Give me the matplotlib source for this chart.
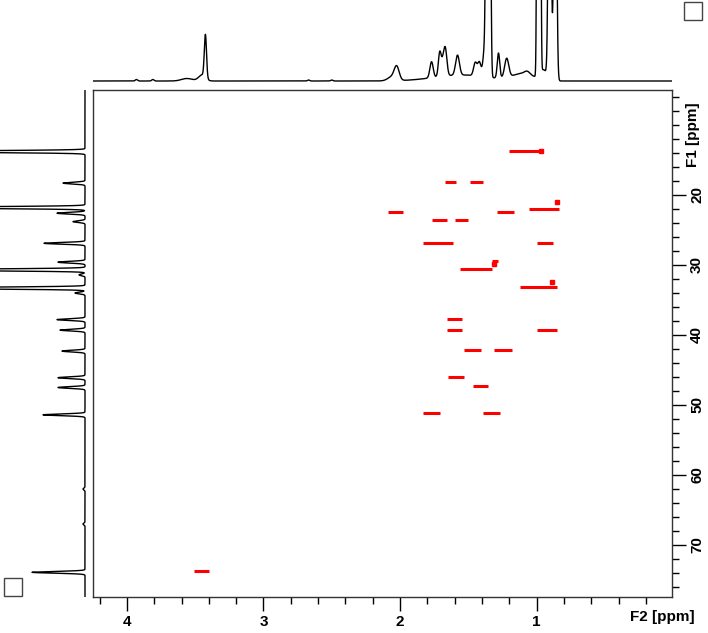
import numpy as np
import matplotlib
matplotlib.use("Agg")
import matplotlib.pyplot as plt
from matplotlib.patches import Rectangle

# ---------------------------
# data
# ---------------------------

# HSQC cross peaks: 1H start, 1H end, 13C shift
cp_h_start = [1.20, 1.67, 1.49, 2.09, 1.29, 1.06, 1.77, 1.60, 1.83, 1.00,
              1.33, 1.56, 1.12, 1.66, 1.66, 1.00, 1.53, 1.31, 1.65, 1.47,
              1.83, 1.39, 3.51]
cp_h_end = [0.96, 1.59, 1.39, 1.98, 1.17, 0.84, 1.66, 1.50, 1.61, 0.88,
            1.28, 1.33, 0.85, 1.55, 1.55, 0.85, 1.41, 1.18, 1.53, 1.36,
            1.71, 1.27, 3.40]
cp_c = [13.7, 18.1, 18.1, 22.4, 22.4, 22.0, 23.6, 23.6, 26.8, 26.8,
        29.5, 30.6, 33.2, 37.7, 39.3, 39.3, 42.1, 42.1, 46.0, 47.3,
        51.2, 51.2, 73.7]

# small extra contour bits
dot_h = [0.97, 0.85, 1.31, 0.89]
dot_c = [13.7, 21.0, 29.9, 32.4]

# 1H projection (top): ppm, height [px], width [ppm]
h_ppm = [3.93, 3.81, 3.56, 3.45, 3.425, 2.67, 2.50,
         2.06, 2.025, 1.55, 1.77, 1.71, 1.69, 1.67, 1.58, 1.45, 1.42,
         1.38, 1.365, 1.345, 1.28, 1.22, 1.10, 1.07,
         0.995, 0.975, 0.95, 0.905, 0.865]
h_int = [1.5, 1.5, 2.5, 6, 43, 1, 1,
         4, 13, 6, 16, 24, 10, 28, 20, 13, 14,
         30, 400, 400, 25, 19, 7, 3,
         400, 400, 10, 400, 400]
h_wid = [0.008, 0.008, 0.04, 0.025, 0.008, 0.008, 0.008,
         0.03, 0.018, 0.2, 0.012, 0.01, 0.01, 0.012, 0.014, 0.012, 0.012,
         0.012, 0.007, 0.007, 0.009, 0.015, 0.08, 0.02,
         0.005, 0.005, 0.025, 0.009, 0.009]

# 13C projection (left): ppm, height [px]
c_ppm = [13.8, 18.3, 21.8, 22.6, 23.8, 26.9, 29.6, 30.7, 31.4, 33.3, 34.0,
         37.8, 39.3, 42.3, 46.1, 47.5, 51.4, 62.0, 67.0, 73.9]
c_int = [200, 22, 200, 28, 12, 41, 27, 200, 6, 200, 10,
         28, 25, 23, 27, 27, 42, 2, 2, 53]

x_major = [4, 3, 2, 1]
y_major = [20, 30, 40, 50, 60, 70]

# ---------------------------
# figure
# ---------------------------
W, H = 708, 633
fig = plt.figure(figsize=(W / 100, H / 100), dpi=100)
plt.rcParams['font.family'] = ['Liberation Sans', 'DejaVu Sans']

x0, x1 = 92.7, 672.0
y0, y1 = 90.0, 597.0
xlim = (4.25, 0.01)
ylim = (77.43, 5.0)

ax = fig.add_axes([x0 / W, 1 - y1 / H, (x1 - x0) / W, (y1 - y0) / H])
ax.set_xlim(*xlim)
ax.set_ylim(*ylim)

for hs, he, c in zip(cp_h_start, cp_h_end, cp_c):
    ax.hlines(c, hs, he, color='red', lw=2.2)
ax.plot(dot_h, dot_c, 's', color='red', ms=2.5, mec='red')

# ticks
ax.set_xticks(x_major)
ax.set_xticks(np.arange(0.2, 4.25, 0.2), minor=True)
ax.set_yticks(y_major)
ax.set_yticks(np.arange(6, 77, 2), minor=True)
ax.yaxis.tick_right()
ax.tick_params(which='major', length=10, width=1, direction='out',
               labelsize=11, pad=3)
ax.tick_params(which='minor', length=5, width=1, direction='out')
for lab in ax.get_xticklabels():
    lab.set_fontweight('bold')
for lab in ax.get_yticklabels():
    lab.set_fontweight('bold')
    lab.set_rotation(90)
    lab.set_va('center')
for s in ax.spines.values():
    s.set_linewidth(1)
    s.set_color('#333333')

fig.text(662 / W, 1 - 617 / H, 'F2 [ppm]', fontsize=11, fontweight='bold',
         ha='center', va='center')
fig.text(693 / W, 1 - 135 / H, 'F1 [ppm]', fontsize=11, fontweight='bold',
         ha='center', va='center', rotation=90)

# top projection
axt = fig.add_axes([x0 / W, 1 - 88 / H, (x1 - x0) / W, 88 / H])
hx = np.linspace(xlim[0], xlim[1], 8000)
hy = np.zeros_like(hx)
for p, a, w in zip(h_ppm, h_int, h_wid):
    hy += a * np.exp(-0.5 * ((hx - p) / w) ** 2)
axt.plot(hx, hy, color='black', lw=1.0)
axt.set_xlim(*xlim)
axt.set_ylim(-7, 81)
axt.axis('off')

# left projection
axl = fig.add_axes([0, 1 - y1 / H, 90 / W, (y1 - y0) / H])
cy = np.linspace(ylim[1], ylim[0], 8000)
cx = np.zeros_like(cy)
for p, a in zip(c_ppm, c_int):
    w = 0.12
    cx += a * np.exp(-0.5 * ((cy - p) / w) ** 2)
axl.plot(cx, cy, color='black', lw=1.0)
axl.set_ylim(*ylim)
axl.set_xlim(85, -5)
axl.axis('off')

# the two little boxes
fig.patches.append(Rectangle((684 / W, 1 - 20 / H), 18 / W, 18 / H,
                             transform=fig.transFigure, fill=False,
                             ec='#444444', lw=1))
fig.patches.append(Rectangle((4 / W, 1 - 596 / H), 18 / W, 18 / H,
                             transform=fig.transFigure, fill=False,
                             ec='#444444', lw=1))

fig.savefig('out.png', dpi=100)
